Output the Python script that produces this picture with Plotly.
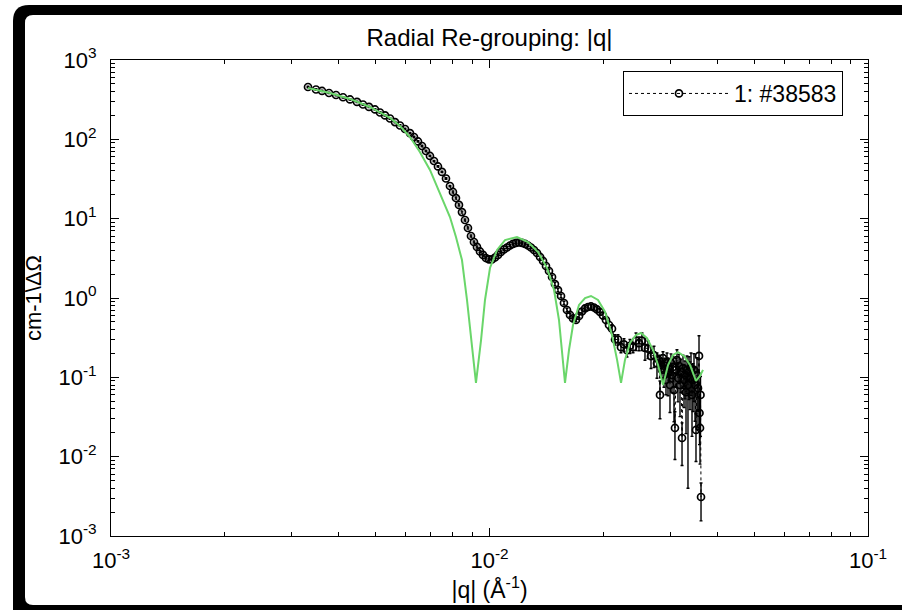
import plotly.graph_objects as go

# ---------------- data ----------------
q_data = [
    0.003315, 0.003480, 0.003610, 0.003767, 0.003931, 0.004102, 0.004280, 0.004466, 0.004632, 0.004804,
    0.004983, 0.005137, 0.005295, 0.005459, 0.005628, 0.005801, 0.005981, 0.006165, 0.006317, 0.006473,
    0.006632, 0.006795, 0.006962, 0.007134, 0.007309, 0.007489, 0.007674, 0.007862, 0.008007, 0.008155,
    0.008305, 0.008458, 0.008614, 0.008772, 0.008934, 0.009098, 0.009266, 0.009437, 0.009610, 0.009787,
    0.009970, 0.01015, 0.01034, 0.01053, 0.01072, 0.01092, 0.01112, 0.01133, 0.01154, 0.01175,
    0.01197, 0.01219, 0.01241, 0.01264, 0.01287, 0.01311, 0.01335, 0.01360, 0.01385, 0.01410,
    0.01436, 0.01463, 0.01489, 0.01517, 0.01545, 0.01573, 0.01602, 0.01632, 0.01662, 0.01692,
    0.01724, 0.01755, 0.01788, 0.01821, 0.01854, 0.01888, 0.01923, 0.01958, 0.01994, 0.02031,
    0.02069, 0.02107, 0.02146, 0.02185, 0.02225, 0.02266, 0.02308, 0.02350, 0.02394, 0.02438,
    0.02483, 0.02528, 0.02575, 0.02622, 0.02671, 0.02720, 0.02770,
    0.02804, 0.02821, 0.02838, 0.02855, 0.02873, 0.02890, 0.02908, 0.02926, 0.02944, 0.02962,
    0.02980, 0.02998, 0.03016, 0.03035, 0.03053, 0.03072, 0.03090, 0.03109, 0.03128, 0.03147,
    0.03167, 0.03186, 0.03206, 0.03226, 0.03245, 0.03265, 0.03285, 0.03305, 0.03325, 0.03345,
    0.03366, 0.03386, 0.03407, 0.03428, 0.03449, 0.03470, 0.03491, 0.03512, 0.03534, 0.03555,
    0.03577, 0.03588, 0.03599, 0.03610, 0.03621,
]
i_data = [
    457, 425, 407, 384, 362, 339, 318, 296, 275, 256,
    238, 218, 200, 183, 165, 149.5, 135, 120, 107, 94.0,
    82.4, 71.3, 61.7, 53.3, 45.5, 38.8, 32.1, 25.8, 21.7, 18.2,
    14.9, 12.1, 9.62, 7.63, 6.05, 5.08, 4.40, 3.86, 3.49, 3.19,
    3.06, 3.06, 3.24, 3.49, 3.80, 4.09, 4.33, 4.59, 4.80, 4.94,
    5.01, 4.94, 4.80, 4.59, 4.33, 4.03, 3.69, 3.29, 2.93, 2.53,
    2.19, 1.84, 1.50, 1.26, 1.06, 0.865, 0.706, 0.611, 0.552, 0.528,
    0.593, 0.676, 0.738, 0.770, 0.782, 0.759, 0.717, 0.666, 0.602, 0.528,
    0.457, 0.41, 0.30, 0.30, 0.24, 0.26, 0.22, 0.25, 0.24, 0.29,
    0.27, 0.29, 0.235, 0.23, 0.185, 0.19, 0.15,
    0.165, 0.060, 0.143, 0.124, 0.175, 0.107, 0.139, 0.0926, 0.156, 0.117,
    0.131, 0.080, 0.152, 0.107, 0.135, 0.069, 0.023, 0.124, 0.165, 0.098,
    0.139, 0.080, 0.117, 0.0172, 0.131, 0.0926, 0.107, 0.065, 0.124, 0.080,
    0.117, 0.098, 0.131, 0.060, 0.0926, 0.124, 0.080, 0.0217, 0.107, 0.073,
    0.186, 0.0355, 0.023, 0.060, 0.0031,
]
rel_err = [
    0.02, 0.02, 0.02, 0.02, 0.02, 0.02, 0.02, 0.02, 0.02, 0.02,
    0.02, 0.02, 0.02, 0.02, 0.02, 0.02, 0.02, 0.02, 0.02, 0.02,
    0.02, 0.02, 0.02, 0.02, 0.02, 0.02, 0.02, 0.02, 0.03, 0.03,
    0.03, 0.03, 0.03, 0.03, 0.03, 0.03, 0.03, 0.03, 0.03, 0.03,
    0.03, 0.03, 0.03, 0.03, 0.03, 0.03, 0.03, 0.03, 0.03, 0.03,
    0.03, 0.03, 0.03, 0.03, 0.03, 0.03, 0.03, 0.05, 0.05, 0.05,
    0.05, 0.05, 0.05, 0.05, 0.05, 0.05, 0.05, 0.05, 0.05, 0.05,
    0.05, 0.05, 0.05, 0.05, 0.05, 0.05, 0.05, 0.08, 0.10, 0.10,
    0.12, 0.12, 0.15, 0.15, 0.15, 0.18, 0.18, 0.20, 0.15, 0.25,
    0.20, 0.25, 0.30, 0.25, 0.30, 0.30, 0.35,
    0.15, 0.50, 0.20, 0.20, 0.20, 0.30, 0.25, 0.35, 0.30, 0.50,
    0.30, 0.55, 0.30, 0.40, 0.35, 0.60, 0.60, 0.40, 0.35, 0.50,
    0.40, 0.60, 0.45, 0.55, 0.45, 0.55, 0.50, 0.70, 0.50, 0.95,
    0.55, 0.60, 0.55, 0.70, 0.60, 0.60, 0.65, 0.60, 0.65, 0.70,
    0.80, 0.60, 0.65, 0.70, 0.50,
]

# model curve (green)
q_fit = [
    0.003315, 0.00379, 0.00428, 0.00483, 0.005459, 0.005801, 0.006165, 0.006547, 0.006962, 0.007397,
    0.007862, 0.008155, 0.008458, 0.00872, 0.008934, 0.00921, 0.00950, 0.00973, 0.01003, 0.01047,
    0.01099, 0.01182, 0.01264, 0.01343, 0.01419, 0.01481, 0.01526, 0.01554, 0.01583, 0.01622,
    0.01662, 0.01724, 0.01788, 0.01854, 0.01935, 0.02020, 0.02107, 0.02173, 0.02226, 0.02280,
    0.02351, 0.02438, 0.02513, 0.02607, 0.02704, 0.02788, 0.02874, 0.02963, 0.03054, 0.03148,
    0.03265, 0.03386, 0.03512, 0.03598, 0.03665,
]
i_fit = [
    444, 384, 323, 256, 186, 147, 107, 69.3, 41.1, 21.1,
    10.5, 5.88, 3.01, 0.944, 0.296, 0.085, 0.296, 0.944, 2.39, 4.03,
    5.38, 5.87, 5.08, 3.80, 2.39, 1.26, 0.528, 0.221, 0.085, 0.221,
    0.457, 0.817, 1.00, 1.06, 0.944, 0.667, 0.342, 0.166, 0.085, 0.166,
    0.271, 0.342, 0.362, 0.313, 0.221, 0.143, 0.080, 0.143, 0.191, 0.208,
    0.186, 0.143, 0.090, 0.104, 0.124,
]

x_tick_vals = [1e-3, 1e-2, 1e-1]
x_tick_text = ["10<sup>-3</sup>", "10<sup>-2</sup>", "10<sup>-1</sup>"]
y_tick_vals = [1e-3, 1e-2, 1e-1, 1e0, 1e1, 1e2, 1e3]
y_tick_text = ["10<sup>-3</sup>", "10<sup>-2</sup>", "10<sup>-1</sup>", "10<sup>0</sup>",
               "10<sup>1</sup>", "10<sup>2</sup>", "10<sup>3</sup>"]
legend_name = "1: #38583"

# ---------------- figure ----------------
W, H = 902, 610
L, R, T, B = 111, 868, 60, 536  # plot area in pixels

err = [i * r for i, r in zip(i_data, rel_err)]

fig = go.Figure()
fig.add_trace(go.Scatter(
    x=q_data, y=i_data, mode="lines+markers", name=legend_name,
    line=dict(color="black", width=1, dash="dot"),
    marker=dict(symbol="circle-open", size=7, color="black", line=dict(width=1.7, color="black")),
    error_y=dict(type="data", array=err, arrayminus=err, color="black", thickness=1.4, width=1.5),
))
fig.add_trace(go.Scatter(
    x=q_fit, y=i_fit, mode="lines", showlegend=False,
    line=dict(color="#6ad66a", width=2),
))


def px2paper(px, py):
    return (px - L) / (R - L), (B - py) / (B - T)


def rounded_left_rect(x0, y0, x1, y1, r):
    rx = r / (R - L)
    ry = r / (B - T)
    ax, ay = px2paper(x0, y0)
    bx, by = px2paper(x1, y1)
    return (f"M {ax + rx},{ay} L {bx},{ay} L {bx},{by} L {ax + rx},{by} "
            f"Q {ax},{by} {ax},{by + ry} L {ax},{ay - ry} Q {ax},{ay} {ax + rx},{ay} Z")


shapes = [
    dict(type="path", xref="paper", yref="paper", layer="below",
         path=rounded_left_rect(13, 5, 930, 640, 16), fillcolor="black", line=dict(width=0)),
    dict(type="path", xref="paper", yref="paper", layer="below",
         path=rounded_left_rect(25, 15, 930, 605, 8), fillcolor="white", line=dict(width=0)),
]

minor_x = [m * 10.0 ** e for e in (-3, -2) for m in range(2, 10)]
minor_y = [m * 10.0 ** e for e in range(-3, 3) for m in range(2, 10)]

font_family = "Liberation Sans, Arial, Helvetica, sans-serif"

axis_common = dict(
    type="log", showline=True, linecolor="black", linewidth=1, mirror="ticks",
    ticks="inside", ticklen=8, tickwidth=1, tickcolor="black", showgrid=False,
    zeroline=False, tickmode="array", tickfont=dict(size=22, color="black", family=font_family),
)

fig.update_layout(
    width=W, height=H, autosize=False,
    margin=dict(l=L, r=W - R, t=T, b=H - B, pad=0),
    paper_bgcolor="white", plot_bgcolor="white",
    font=dict(family=font_family, color="black", size=22),
    shapes=shapes,
    title=dict(text="Radial Re-grouping: |q|", x=0.5, xref="paper", xanchor="center",
               y=1 - 38 / H, yref="container", yanchor="middle",
               font=dict(size=24, color="black", family=font_family)),
    xaxis=dict(**axis_common, range=[-3, -1], tickvals=x_tick_vals, ticktext=x_tick_text,
               ticklabelstandoff=5,
               minor=dict(ticks="inside", ticklen=4, tickcolor="black", tickvals=minor_x, showgrid=False),
               title=dict(text="|q| (Å<sup>-1</sup>)", font=dict(size=23, family=font_family), standoff=6)),
    yaxis=dict(**axis_common, range=[-3, 3], tickvals=y_tick_vals, ticktext=y_tick_text,
               ticklabelstandoff=9,
               minor=dict(ticks="inside", ticklen=4, tickcolor="black", tickvals=minor_y, showgrid=False),
               title=dict(text="cm-1\\ΔΩ", font=dict(size=22, family=font_family), standoff=10)),
    legend=dict(x=(623 - L) / (R - L), y=(B - 71) / (B - T), xanchor="left", yanchor="top",
                bordercolor="black", borderwidth=1, bgcolor="white", itemwidth=100,
                font=dict(size=23, color="black", family=font_family)),
    showlegend=True,
)

fig.write_html("out.html")
